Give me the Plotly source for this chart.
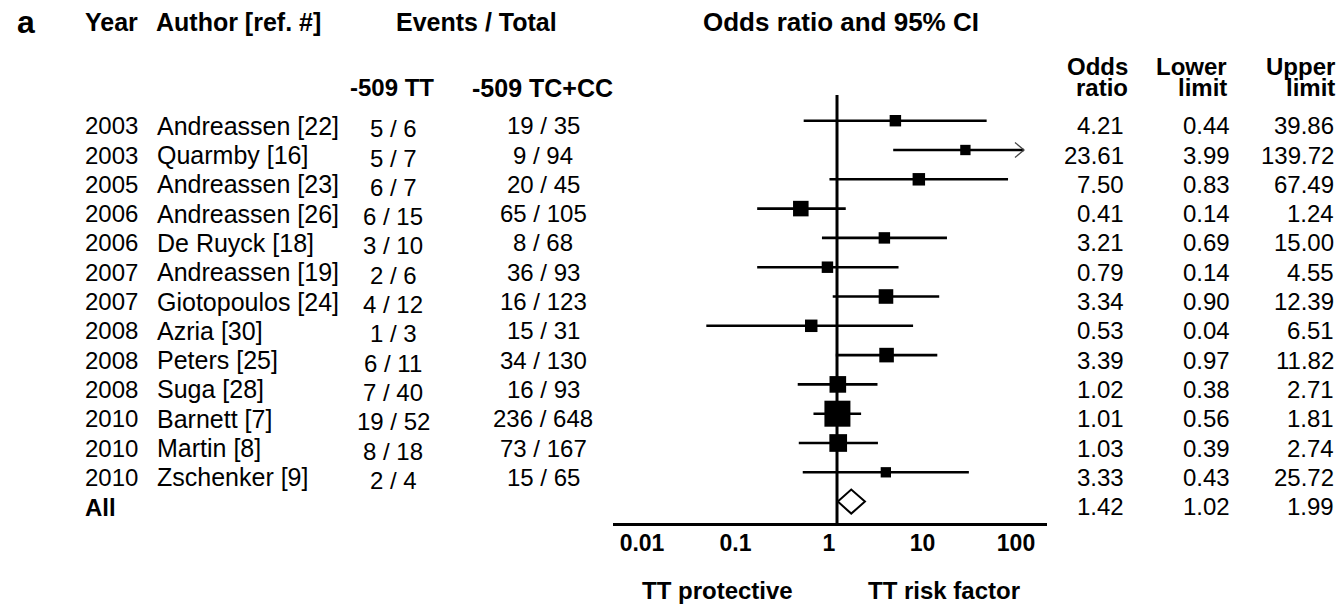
import plotly.graph_objects as go

# ---------------- data ----------------
years = [2003, 2003, 2005, 2006, 2006, 2007, 2007, 2008, 2008, 2008, 2010, 2010, 2010]
authors = ["Andreassen [22]", "Quarmby [16]", "Andreassen [23]", "Andreassen [26]",
           "De Ruyck [18]", "Andreassen [19]", "Giotopoulos [24]", "Azria [30]",
           "Peters [25]", "Suga [28]", "Barnett [7]", "Martin [8]", "Zschenker [9]"]
tt_events = [5, 5, 6, 6, 3, 2, 4, 1, 6, 7, 19, 8, 2]
tt_total = [6, 7, 7, 15, 10, 6, 12, 3, 11, 40, 52, 18, 4]
tc_events = [19, 9, 20, 65, 8, 36, 16, 15, 34, 16, 236, 73, 15]
tc_total = [35, 94, 45, 105, 68, 93, 123, 31, 130, 93, 648, 167, 65]
odds_ratio = [4.21, 23.61, 7.50, 0.41, 3.21, 0.79, 3.34, 0.53, 3.39, 1.02, 1.01, 1.03, 3.33]
lower_limit = [0.44, 3.99, 0.83, 0.14, 0.69, 0.14, 0.90, 0.04, 0.97, 0.38, 0.56, 0.39, 0.43]
upper_limit = [39.86, 139.72, 67.49, 1.24, 15.00, 4.55, 12.39, 6.51, 11.82, 2.71, 1.81, 2.74, 25.72]
rel_weight = [4.4, 3.5, 5.3, 8.5, 4.4, 4.4, 7.4, 5.3, 7.4, 9.8, 25.1, 11.2, 3.5]  # % weight
pooled_label = "All"
pooled_or, pooled_lower, pooled_upper = 1.42, 1.02, 1.99
tick_values = [0.01, 0.1, 1, 10, 100]
tick_labels = ["0.01", "0.1", "1", "10", "100"]
display_clip = 100

# ---------------- layout constants (pixels) ----------------
W, H = 1344, 607
AX_LEFT, AX_RIGHT, AX_Y = 613, 1047, 523
ROW0_PX, ROW_STEP = 120.7, 29.3
X_LOG_MIN, X_LOG_MAX = -2.396, 2.246
FONT = "Liberation Sans, Arial, sans-serif"
FS = 24

n = len(odds_ratio)
rows = list(range(n))
pooled_row = n
y_top = (0 - ROW0_PX) / ROW_STEP
y_bot = (AX_Y - ROW0_PX) / ROW_STEP
px_per_dec = (AX_RIGHT - AX_LEFT) / (X_LOG_MAX - X_LOG_MIN)


def px(xp):
    return xp / W


def py(yp):
    return 1 - yp / H


fig = go.Figure()

# reference line at OR = 1
fig.add_trace(go.Scatter(x=[1, 1], y=[(95 - ROW0_PX) / ROW_STEP, y_bot], mode="lines",
                         line=dict(color="black", width=3), cliponaxis=False,
                         hoverinfo="skip", showlegend=False))

# confidence intervals
cx, cy = [], []
for i in rows:
    cx += [lower_limit[i], min(upper_limit[i], display_clip), None]
    cy += [i, i, None]
fig.add_trace(go.Scatter(x=cx, y=cy, mode="lines", line=dict(color="black", width=2.6),
                         cliponaxis=False, hoverinfo="skip", showlegend=False))

# open arrow heads for clipped intervals
arm_dx = 10 ** (-9 / px_per_dec)
arm_dy = 7.5 / ROW_STEP
for i in rows:
    if upper_limit[i] > display_clip:
        fig.add_trace(go.Scatter(
            x=[display_clip * arm_dx, display_clip, display_clip * arm_dx],
            y=[i - arm_dy, i, i + arm_dy], mode="lines",
            line=dict(color="#444444", width=1.3), cliponaxis=False,
            hoverinfo="skip", showlegend=False))

# study squares
max_w = max(rel_weight)
sizes = [25 * (w / max_w) ** 0.5 + 1 for w in rel_weight]
fig.add_trace(go.Scatter(x=odds_ratio, y=rows, mode="markers",
                         marker=dict(symbol="square", size=sizes, color="black",
                                     opacity=1, line=dict(width=0)),
                         cliponaxis=False, hoverinfo="skip", showlegend=False))

# pooled diamond
dh = 12 / ROW_STEP
fig.add_trace(go.Scatter(
    x=[pooled_lower, pooled_or, pooled_upper, pooled_or, pooled_lower],
    y=[pooled_row, pooled_row - dh, pooled_row, pooled_row + dh, pooled_row],
    mode="lines", fill="toself", fillcolor="white",
    line=dict(color="black", width=2), cliponaxis=False,
    hoverinfo="skip", showlegend=False))

ann = []


def txt(text, x, y, xanchor="left", bold=False, size=FS, yref="y", yshift=0):
    ann.append(dict(text=("<b>%s</b>" % text) if bold else text, x=x, y=y,
                    xref="paper", yref=yref, xanchor=xanchor, yanchor="middle",
                    showarrow=False, yshift=yshift,
                    font=dict(family=FONT, size=size, color="black")))


# headers
txt("a", px(15), py(22), bold=True, size=32, yref="paper")
txt("Year", px(83), py(22), bold=True, size=25, yref="paper")
txt("Author [ref. #]", px(154), py(22), bold=True, size=25, yref="paper")
txt("Events / Total", px(476), py(22), xanchor="center", bold=True, size=25, yref="paper")
txt("Odds ratio and 95% CI", px(841), py(22), xanchor="center", bold=True, size=26, yref="paper")
txt("-509 TT", px(392), py(88), xanchor="center", bold=True, yref="paper")
txt("-509 TC+CC", px(542), py(88), xanchor="center", bold=True, size=25, yref="paper")
for xr, l1, l2 in [(1130, "Odds", "ratio"), (1229, "Lower", "limit"), (1337, "Upper", "limit")]:
    txt(l1, px(xr), py(66), xanchor="right", bold=True, yref="paper")
    txt(l2, px(xr), py(88), xanchor="right", bold=True, yref="paper")

# study rows
for i in rows:
    txt(str(years[i]), px(83), i, yshift=-5)
    txt(authors[i], px(155), i, size=25, yshift=-5)
    txt("%d / %d" % (tt_events[i], tt_total[i]), px(393), i, xanchor="center", yshift=-8)
    txt("%d / %d" % (tc_events[i], tc_total[i]), px(543), i, xanchor="center", yshift=-5)
    txt("%.2f" % odds_ratio[i], px(1126), i, xanchor="right", yshift=-5)
    txt("%.2f" % lower_limit[i], px(1232), i, xanchor="right", yshift=-5)
    txt("%.2f" % upper_limit[i], px(1336), i, xanchor="right", yshift=-5)

# pooled row
txt(pooled_label, px(83), pooled_row, bold=True, yshift=-6)
txt("%.2f" % pooled_or, px(1126), pooled_row, xanchor="right", yshift=-5)
txt("%.2f" % pooled_lower, px(1232), pooled_row, xanchor="right", yshift=-5)
txt("%.2f" % pooled_upper, px(1336), pooled_row, xanchor="right", yshift=-5)

# axis direction labels
txt("TT protective", px(717), py(590), xanchor="center", bold=True, yref="paper")
txt("TT risk factor", px(944), py(590), xanchor="center", bold=True, yref="paper")

fig.update_layout(
    width=W, height=H, margin=dict(l=0, r=0, t=0, b=0),
    paper_bgcolor="white", plot_bgcolor="white", showlegend=False,
    annotations=ann, hovermode=False,
    xaxis=dict(type="log", range=[X_LOG_MIN, X_LOG_MAX],
               domain=[px(AX_LEFT), px(AX_RIGHT)],
               showline=True, linecolor="black", linewidth=2.5,
               showgrid=False, zeroline=False, ticks="",
               tickvals=tick_values, ticktext=["<b>%s</b>" % t for t in tick_labels],
               tickfont=dict(family=FONT, size=23, color="black"),
               ticklabelshift=-8, ticklabelstandoff=-2, fixedrange=True),
    yaxis=dict(range=[y_bot, y_top], domain=[1 - AX_Y / H, 1], visible=False,
               showgrid=False, zeroline=False, fixedrange=True),
)

fig.write_html("out.html", config={"displayModeBar": False, "staticPlot": True},
               post_script="document.body.style.margin='0';document.body.style.overflow='hidden';")
